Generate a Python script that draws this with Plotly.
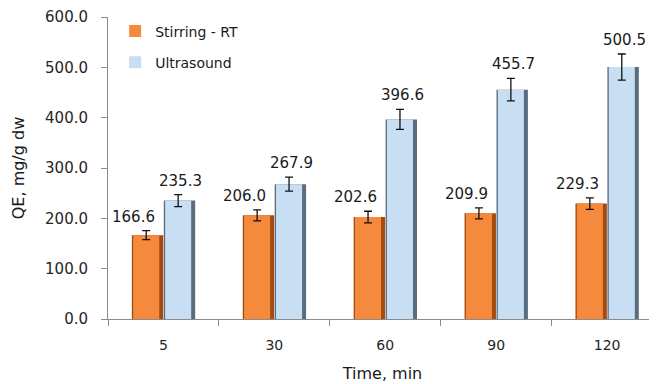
import plotly.graph_objects as go

categories = ["5", "30", "60", "90", "120"]
stirring = [166.6, 206.0, 202.6, 209.9, 229.3]
stirring_err = [9, 11, 11.5, 11, 11.5]
ultrasound = [235.3, 267.9, 396.6, 455.7, 500.5]
ultrasound_err = [12, 14, 20, 22.5, 26]
y_ticks = [0, 100, 200, 300, 400, 500, 600]

FONT = "DejaVu Sans"
BW = 0.283
O_OFF = -0.285
B_OFF = 0.003

fig = go.Figure()
# darker shells (edge shading)
fig.add_trace(go.Bar(x=categories, y=stirring, offset=O_OFF, width=BW,
                     marker=dict(color="#A24C12", line=dict(width=0)),
                     showlegend=False, hoverinfo="skip"))
fig.add_trace(go.Bar(x=categories, y=ultrasound, offset=B_OFF, width=BW,
                     marker=dict(color="#5A6C7E", line=dict(width=0)),
                     showlegend=False, hoverinfo="skip"))
# bodies
fig.add_trace(go.Bar(x=categories, y=stirring, offset=O_OFF + 0.012, width=0.235,
                     name="Stirring - RT", legendgroup="a",
                     marker=dict(color="#F68A3C", line=dict(width=0)),
                     error_y=dict(type="data", array=stirring_err, color="#111111",
                                  thickness=1.3, width=4)))
fig.add_trace(go.Bar(x=categories, y=ultrasound, offset=B_OFF + 0.012, width=0.235,
                     name="Ultrasound", legendgroup="b",
                     marker=dict(color="#C7DEF3", line=dict(width=0)),
                     error_y=dict(type="data", array=ultrasound_err, color="#111111",
                                  thickness=1.3, width=4)))

for i, (v, e) in enumerate(zip(stirring, stirring_err)):
    fig.add_annotation(x=i, y=v + e, text=f"{v:.1f}", showarrow=False,
                       xshift=-30, yshift=3, yanchor="bottom",
                       font=dict(family=FONT, size=15, color="#1a1a1a"))
for i, (v, e) in enumerate(zip(ultrasound, ultrasound_err)):
    fig.add_annotation(x=i, y=v + e, text=f"{v:.1f}", showarrow=False,
                       xshift=17, yshift=3, yanchor="bottom",
                       font=dict(family=FONT, size=15, color="#1a1a1a"))

# page body has an 8px margin, so the figure is sized to the visible area
fig.update_layout(
    width=649, height=376,
    margin=dict(l=100, r=0, t=9, b=65),
    paper_bgcolor="white", plot_bgcolor="white",
    barmode="overlay",
    font=dict(family=FONT, size=14, color="#333333"),
    legend=dict(x=0.013, y=1.005, xanchor="left", yanchor="top",
                traceorder="grouped", tracegroupgap=10,
                font=dict(family=FONT, size=14, color="#1a1a1a"),
                bgcolor="rgba(0,0,0,0)"),
    xaxis=dict(type="category", range=[-0.5, 4.45], automargin=False,
               showline=True, linecolor="#8c8c8c", linewidth=1,
               ticks="outside", tickson="boundaries", ticklen=6,
               tickcolor="#8c8c8c", showgrid=False, zeroline=False,
               ticklabelstandoff=13,
               tickfont=dict(family=FONT, size=14, color="#262626"),
               title=dict(text="Time, min", standoff=16,
                          font=dict(family=FONT, size=16, color="#1a1a1a"))),
    yaxis=dict(range=[0, 600], tickvals=y_ticks, tickformat=".1f", automargin=False,
               showline=True, linecolor="#8c8c8c", linewidth=1,
               ticks="outside", ticklen=6, tickcolor="#8c8c8c",
               showgrid=False, zeroline=False, ticklabelstandoff=10,
               tickfont=dict(family=FONT, size=15, color="#262626"),
               title=dict(text="QE, mg/g dw", standoff=16,
                          font=dict(family=FONT, size=16, color="#1a1a1a"))),
)

fig.write_html("out.html")
